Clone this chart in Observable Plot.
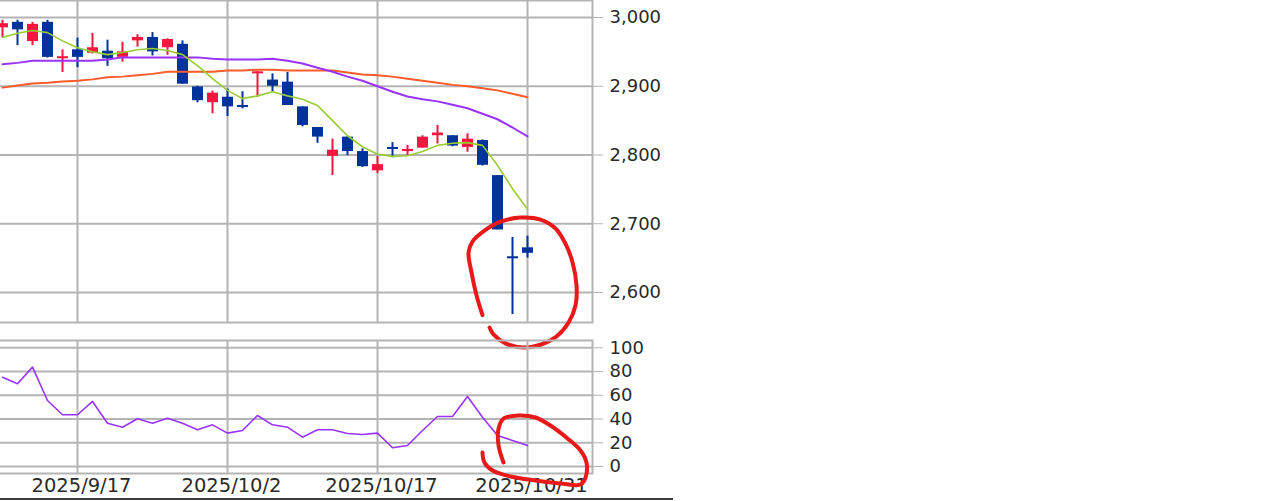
<!DOCTYPE html>
<html><head><meta charset="utf-8">
<script src="https://cdn.jsdelivr.net/npm/d3@7"></script>
<script src="https://cdn.jsdelivr.net/npm/@observablehq/plot@0.6"></script>
<style>
html,body{margin:0;padding:0;background:#fff;}
#wrap{position:relative;width:1280px;height:501px;overflow:hidden;background:#fff;}
#wrap svg{position:absolute;left:-2px;overflow:visible;}
#base{position:absolute;left:0;top:498px;width:673px;height:2px;background:#3c3c3c;}
</style></head><body><div id="wrap"><div id="base"></div></div>
<script>
const dates = ["2025/9/9","2025/9/10","2025/9/11","2025/9/12","2025/9/16","2025/9/17","2025/9/18","2025/9/19","2025/9/22","2025/9/24","2025/9/25","2025/9/26","2025/9/29","2025/9/30","2025/10/1","2025/10/2","2025/10/3","2025/10/6","2025/10/7","2025/10/8","2025/10/9","2025/10/10","2025/10/14","2025/10/15","2025/10/16","2025/10/17","2025/10/20","2025/10/21","2025/10/22","2025/10/23","2025/10/24","2025/10/27","2025/10/28","2025/10/29","2025/10/30","2025/10/31"];
const open  = [2985,2993,2965,2993,2940,2953,2948,2951,2942,2966,2971,2956,2961,2899,2876,2884,2872,2918,2909,2906,2870,2840,2798,2826,2805,2777,2811,2805,2810,2828,2828,2811,2821,2770,2652,2665];
const high  = [2996,2996,2993,2996,2953,2970,2977,2967,2964,2975,2978,2969,2966,2900,2893,2896,2892,2921,2918,2920,2870,2840,2823,2827,2809,2798,2818,2814,2828,2843,2828,2831,2822,2770,2680,2682];
const low   = [2971,2959,2959,2941,2920,2927,2947,2929,2935,2957,2944,2945,2903,2876,2860,2856,2867,2884,2892,2872,2841,2817,2770,2799,2782,2773,2796,2799,2810,2816,2812,2804,2784,2691,2568,2650];
const close = [2991,2982,2990,2942,2943,2942,2956,2940,2950,2971,2950,2968,2903,2879,2890,2870,2869,2921,2900,2872,2843,2826,2807,2805,2783,2786,2808,2808,2826,2832,2813,2823,2785,2691,2649,2657];
const ma5   = [2971,2977,2981,2978,2966,2956,2950,2946,2949,2953,2955,2952,2946,2930,2911,2894,2882,2886,2892,2886,2881,2872,2850,2828,2812,2801,2798,2799,2805,2814,2817,2818,2814,2785,2751,2721];
const ma25  = [2932,2934,2937,2937,2937,2937,2937,2939,2942,2942,2942,2942,2942,2942,2940,2939,2939,2939,2940,2937,2933,2927,2921,2914,2908,2900,2892,2885,2881,2878,2873,2868,2860,2852,2840,2827];
const ma75  = [2898,2901,2904,2905,2907,2908,2910,2913,2914,2916,2918,2921,2921,2921,2921,2923,2923,2924,2924,2923,2923,2923,2923,2920,2917,2916,2914,2911,2908,2905,2902,2900,2897,2894,2889,2884];
const rsi   = [75.2,69.7,83.7,55.6,43.6,43.6,54.8,36.5,33.1,40.2,36.5,40.7,36.5,30.9,35.1,28.1,30.3,43.0,35.1,33.1,24.7,30.9,30.9,27.8,27.0,28.1,15.8,17.7,30.3,42.1,42.1,59.0,41.5,26.1,21.9,17.7];
const priceTicks = [2600,2700,2800,2900,3000];
const rsiTicks = [0,20,40,60,80,100];
const dateTicks = ["2025/9/17","2025/10/2","2025/10/17","2025/10/31"];
// hand-drawn red marks, in data units (day index, price / RSI)
const markUpperX = [32,31.6,31.27,31.07,31.33,32.13,33.2,34.53,35.87,36.87,37.53,38,38.27,38.2,37.73,36.93,35.87,34.73,33.53,32.73,32.47];
const markUpperY = [2567,2596,2629,2658,2674,2690,2703,2709,2706,2693,2671,2644,2610,2581,2556,2536,2524,2520,2526,2539,2549];
const markLowerX = [32,32.13,32.67,33.87,35.53,37.2,38.53,38.87,38.93,38.53,37.67,36.53,35.53,34.4,33.4,33.07,33.07,33.4];
const markLowerY = [11.8,3.4,-3.4,-8.4,-11.8,-14.3,-15.2,-9.3,3.4,13.5,23.6,34.5,41.3,43,40.4,32,17.7,3.4];

const RED = "#f5173f", BLUE = "#003399", GRID = "#b4b4b4", TXT = "#2a2a2a", MARK = "#e81919";
const idx = d3.range(dates.length);
const tickIdx = dateTicks.map(d => dates.indexOf(d));
const xScale = {type: "linear", domain: [-4/15, 590/15], axis: null};
const base = {width: 682, marginLeft: 0, marginRight: 88,
  style: {fontFamily: "DejaVu Sans", fontSize: "18px", background: "transparent", overflow: "visible", color: TXT}};
const up = i => close[i] >= open[i];

const upper = Plot.plot({
  ...base, height: 360, marginTop: 0, marginBottom: 38,
  x: xScale,
  y: {domain: [2556.36, 3024.73], axis: null},
  marks: [
    Plot.gridY(priceTicks, {stroke: GRID, strokeOpacity: 1, strokeWidth: 2}),
    Plot.gridX(tickIdx, {stroke: GRID, strokeOpacity: 1, strokeWidth: 2}),
    Plot.frame({stroke: GRID, strokeWidth: 2}),
    Plot.axisY(priceTicks, {anchor: "right", tickSize: 10, tickPadding: 7, tickFormat: d3.format(","), stroke: GRID, fill: TXT}),
    Plot.ruleX(idx, {filter: i => !up(i), x: i => i, y1: i => low[i], y2: i => high[i], stroke: BLUE, strokeWidth: 2}),
    Plot.ruleX(idx, {filter: i => up(i), x: i => i, y1: i => low[i], y2: i => high[i], stroke: RED, strokeWidth: 2}),
    Plot.ruleX(idx, {filter: i => !up(i), x: i => i, y1: i => open[i], y2: i => close[i], stroke: BLUE, strokeWidth: 11}),
    Plot.ruleX(idx, {filter: i => up(i), x: i => i, y1: i => open[i], y2: i => close[i], stroke: RED, strokeWidth: 11}),
    Plot.line(idx, {x: i => i, y: i => ma75[i], stroke: "#ff5a2a", strokeWidth: 2}),
    Plot.line(idx, {x: i => i, y: i => ma25[i], stroke: "#9933ff", strokeWidth: 2}),
    Plot.line(idx, {x: i => i, y: i => ma5[i], stroke: "#99cc33", strokeWidth: 1.6}),
    Plot.line(d3.range(markUpperX.length), {x: k => markUpperX[k], y: k => markUpperY[k], stroke: MARK, strokeWidth: 4, curve: "catmull-rom", strokeLinecap: "round", strokeLinejoin: "round"})
  ]
});
upper.style.top = "0px";

const lower = Plot.plot({
  ...base, height: 171, marginTop: 10, marginBottom: 28,
  x: xScale,
  y: {domain: [-5.9, 106.15], axis: null},
  marks: [
    Plot.gridY(rsiTicks, {stroke: GRID, strokeOpacity: 1, strokeWidth: 2}),
    Plot.gridX(tickIdx, {stroke: GRID, strokeOpacity: 1, strokeWidth: 2}),
    Plot.frame({stroke: GRID, strokeWidth: 2}),
    Plot.axisY(rsiTicks, {anchor: "right", tickSize: 10, tickPadding: 7, stroke: GRID, fill: TXT}),
    Plot.axisX(tickIdx, {anchor: "bottom", tickSize: 0, tickPadding: 5, dx: 4, tickFormat: i => dates[i], fill: TXT, fontSize: 19.5}),
    Plot.line(idx, {x: i => i, y: i => rsi[i], stroke: "#9933ff", strokeWidth: 1.6}),
    Plot.line(d3.range(markLowerX.length), {x: k => markLowerX[k], y: k => markLowerY[k], stroke: MARK, strokeWidth: 4, curve: "catmull-rom", strokeLinecap: "round", strokeLinejoin: "round"})
  ]
});
lower.style.top = "330px";

const wrap = document.getElementById("wrap");
wrap.appendChild(upper);
wrap.appendChild(lower);
</script>
</body></html>
